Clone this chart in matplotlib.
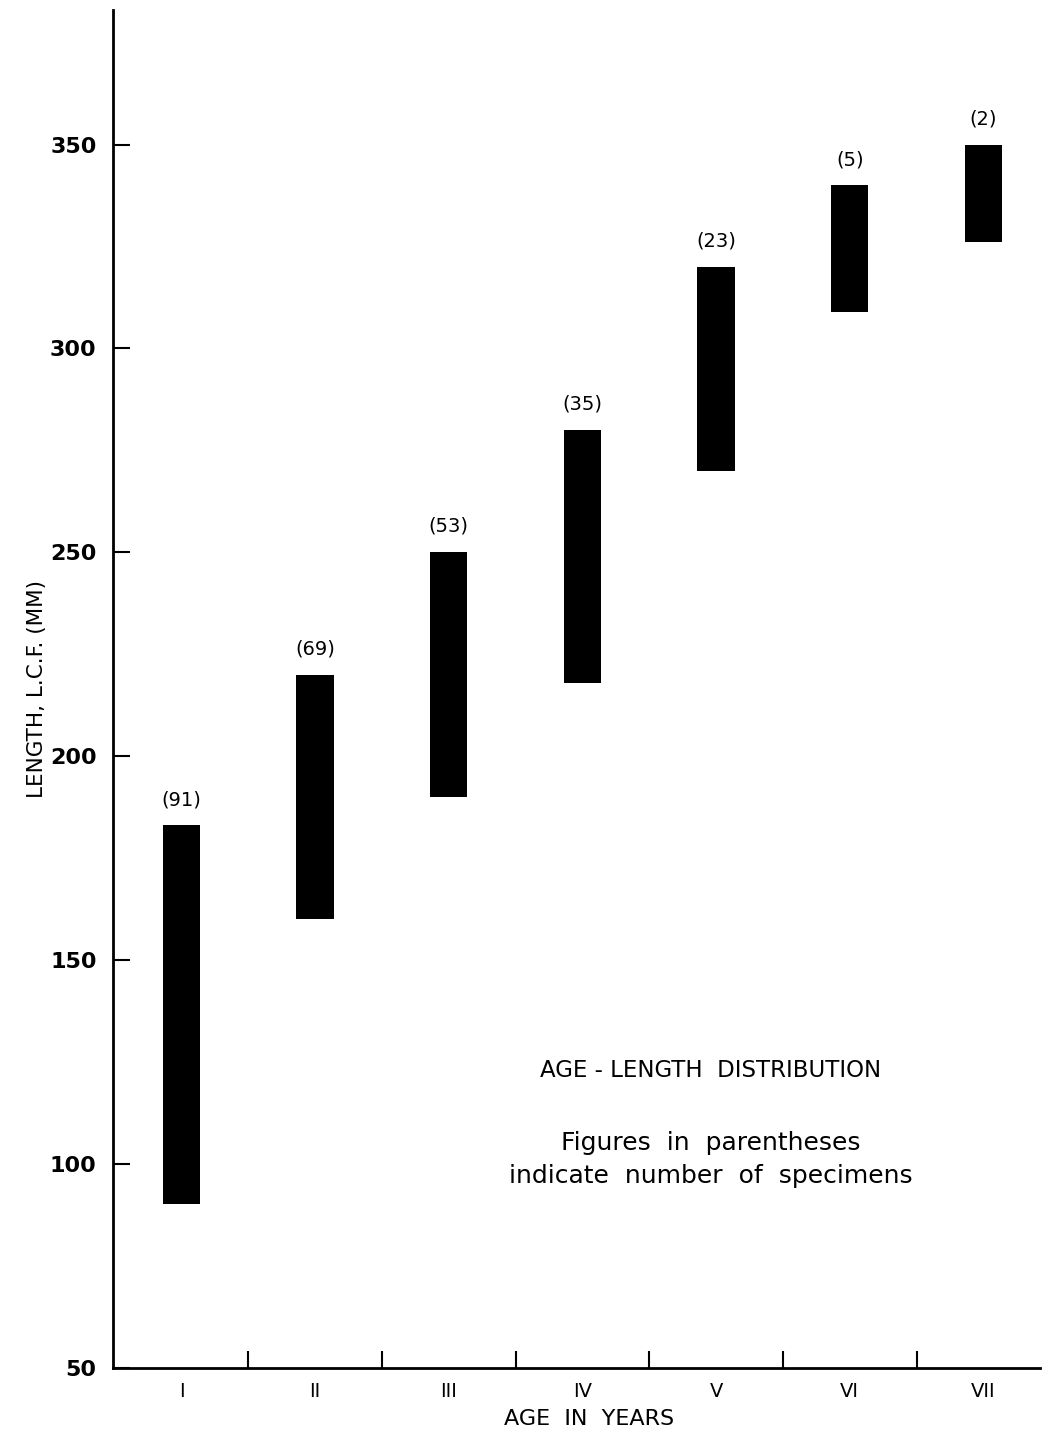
import numpy as np
import matplotlib
matplotlib.use('Agg')
import matplotlib.pyplot as plt

ages = ['I', 'II', 'III', 'IV', 'V', 'VI', 'VII']
len_min = [90, 160, 190, 218, 270, 309, 326]
len_max = [183, 220, 250, 280, 320, 340, 350]
counts = [91, 69, 53, 35, 23, 5, 2]
yticks = [50, 100, 150, 200, 250, 300, 350]

fig = plt.figure(figsize=(10.49, 14.35), dpi=100)
ax = fig.add_axes([0.108, 0.047, 0.883, 0.946])

x = np.arange(1, len(ages) + 1)
lo = np.array(len_min)
hi = np.array(len_max)
ax.bar(x, hi - lo, bottom=lo, width=0.28, color='black')

for xi, top, n in zip(x, hi, counts):
    ax.text(xi, top + 4, '(%d)' % n, ha='center', va='bottom', fontsize=14)

ax.set_xlim(0.49, 7.42)
ax.set_ylim(50, 383)

for s in ['top', 'right']:
    ax.spines[s].set_visible(False)
for s in ['left', 'bottom']:
    ax.spines[s].set_linewidth(2)

ax.set_yticks(yticks)
ax.set_yticklabels([str(v) for v in yticks], fontsize=16, fontweight='bold')
ax.tick_params(axis='y', direction='in', length=12, width=1.5, pad=12)

# boundary ticks between age classes, labels at class centres
ax.set_xticks(x[:-1] + 0.5)
ax.set_xticklabels([])
ax.tick_params(axis='x', direction='in', length=12, width=1.5)
for xi, lab in zip(x, ages):
    ax.text(xi, 46.5, lab, ha='center', va='top', fontsize=14, clip_on=False)

ax.text(4.05, 39.8, 'AGE  IN  YEARS', ha='center', va='top', fontsize=16, clip_on=False)
ax.set_ylabel('LENGTH, L.C.F. (MM)', fontsize=15.5, labelpad=2)

ax.text(4.96, 122.9, 'AGE - LENGTH  DISTRIBUTION', ha='center', va='center', fontsize=16.5)
ax.text(4.96, 105.2, 'Figures  in  parentheses', ha='center', va='center', fontsize=18)
ax.text(4.96, 96.9, 'indicate  number  of  specimens', ha='center', va='center', fontsize=18)

fig.savefig('out.png', dpi=100)
